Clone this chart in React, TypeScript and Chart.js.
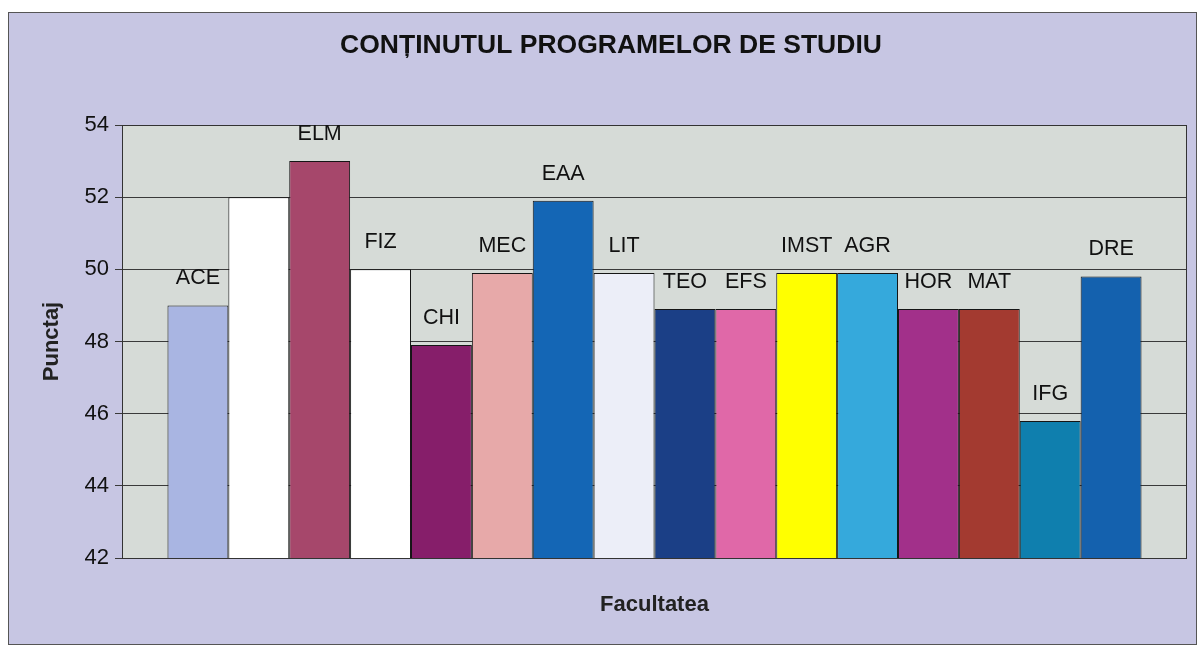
import React, { useEffect, useRef } from "react";
import { Chart, registerables } from "chart.js";

Chart.register(...registerables);

const TITLE = "CONȚINUTUL PROGRAMELOR DE STUDIU";
const X_TITLE = "Facultatea";
const Y_TITLE = "Punctaj";

const faculties = ["ACE", "", "ELM", "FIZ", "CHI", "MEC", "EAA", "LIT", "TEO", "EFS", "IMST", "AGR", "HOR", "MAT", "IFG", "DRE"];
const scores = [49.0, 52.0, 53.0, 50.0, 47.9, 49.9, 51.9, 49.9, 48.9, 48.9, 49.9, 49.9, 48.9, 48.9, 45.8, 49.8];
const barColors = [
  "#a9b5e2", "#ffffff", "#a6476b", "#ffffff", "#861e6a", "#e7a9a9", "#1466b5", "#eceef8",
  "#1b3f86", "#e068a8", "#ffff00", "#35a9dc", "#a2308a", "#a33a30", "#0f7fae", "#1461ae",
];
const Y_MIN = 42;
const Y_MAX = 54;
const Y_STEP = 2;

const OUTER_BG = "#c7c6e3";
const PLOT_BG = "#d6dbd7";
const FONT = "Arial, 'Liberation Sans', sans-serif";

const decorPlugin = {
  id: "decor",
  beforeDraw(chart: any) {
    const { ctx, width, height, chartArea } = chart;
    ctx.save();
    ctx.fillStyle = "#ffffff";
    ctx.fillRect(0, 0, width, height);
    ctx.fillStyle = OUTER_BG;
    ctx.fillRect(8, 12, 1189, 633);
    ctx.strokeStyle = "#555";
    ctx.lineWidth = 1;
    ctx.strokeRect(8.5, 12.5, 1188, 632);
    ctx.fillStyle = PLOT_BG;
    ctx.fillRect(chartArea.left, chartArea.top, chartArea.right - chartArea.left, chartArea.bottom - chartArea.top);
    ctx.font = "bold 26.5px " + FONT;
    ctx.fillStyle = "#111";
    ctx.textAlign = "center";
    ctx.textBaseline = "middle";
    ctx.fillText(TITLE, 611, 46);
    ctx.restore();
  },
  beforeDatasetsDraw(chart: any) {
    const { ctx, chartArea } = chart;
    ctx.save();
    ctx.strokeStyle = "#333";
    ctx.lineWidth = 1;
    ctx.strokeRect(Math.round(chartArea.left) + 0.5, Math.round(chartArea.top) + 0.5,
      Math.round(chartArea.right - chartArea.left) - 1, Math.round(chartArea.bottom - chartArea.top));
    ctx.restore();
  },
  afterDatasetsDraw(chart: any) {
    const { ctx } = chart;
    ctx.save();
    ctx.font = "21.5px " + FONT;
    ctx.fillStyle = "#111";
    ctx.textAlign = "center";
    ctx.textBaseline = "middle";
    chart.data.datasets.forEach((ds: any, i: number) => {
      const meta = chart.getDatasetMeta(i);
      meta.data.forEach((el: any) => {
        if (ds.label) ctx.fillText(ds.label, el.x, el.y - 27);
      });
    });
    ctx.restore();
  },
};

export default function App() {
  const ref = useRef<HTMLCanvasElement>(null);
  useEffect(() => {
    if (!ref.current) return;
    const chart = new Chart(ref.current, {
      type: "bar",
      data: {
        labels: [""],
        datasets: faculties.map((f, i) => ({
          label: f,
          data: [scores[i]],
          backgroundColor: barColors[i],
          borderColor: "#151515",
          borderWidth: 1,
          borderSkipped: false,
          categoryPercentage: 0.9146,
          barPercentage: 1,
        })),
      },
      options: {
        responsive: false,
        animation: false,
        layout: { padding: { left: 0, right: 13, top: 125, bottom: 0 } },
        plugins: {
          legend: { display: false },
          tooltip: { enabled: false },
          title: { display: false },
        },
        scales: {
          x: {
            grid: { display: false, drawTicks: false },
            border: { display: false },
            ticks: { display: false },
            title: {
              display: true,
              text: X_TITLE,
              color: "#222",
              font: { family: FONT, size: 22, weight: "bold", lineHeight: 1.2 },
              padding: { top: 0, bottom: 28 },
            },
            afterFit(scale: any) {
              scale.height = 88;
            },
          },
          y: {
            min: Y_MIN,
            max: Y_MAX,
            ticks: {
              stepSize: Y_STEP,
              color: "#111",
              padding: 6,
              font: { family: FONT, size: 22 },
            },
            grid: { color: "#3a3a3a", lineWidth: 1, tickLength: 7, drawOnChartArea: true },
            border: { display: true, color: "#222" },
            title: {
              display: true,
              text: Y_TITLE,
              color: "#222",
              font: { family: FONT, size: 22, weight: "bold", lineHeight: 1.2 },
              padding: { top: 39, bottom: 0 },
            },
            afterFit(scale: any) {
              scale.width = 122;
            },
          },
        },
      },
      plugins: [decorPlugin],
    } as any);
    return () => chart.destroy();
  }, []);
  return (
    <div style={{ position: "absolute", left: 0, top: 0, width: 1200, height: 646 }}>
      <canvas ref={ref} width={1200} height={646} />
    </div>
  );
}
